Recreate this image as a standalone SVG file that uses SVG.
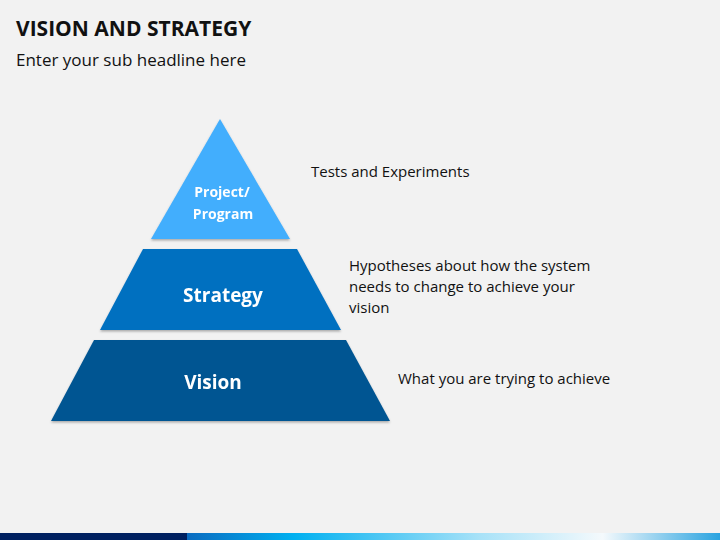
<svg xmlns="http://www.w3.org/2000/svg" width="720" height="540" viewBox="0 0 720 540">
<defs>
<linearGradient id="bar" x1="0" x2="1" y1="0" y2="0">
<stop offset="0" stop-color="#0a6bc0"/>
<stop offset="0.2" stop-color="#00b0f0"/>
<stop offset="0.55" stop-color="#a8e2f8"/>
<stop offset="0.78" stop-color="#f4f9fc"/>
<stop offset="1" stop-color="#29a3e0"/>
</linearGradient>
<filter id="sh" x="-10%" y="-10%" width="120%" height="130%"><feDropShadow dx="0" dy="1.5" stdDeviation="1" flood-opacity="0.3"/></filter>
</defs>
<style>
.t{font-family:"Open Sans","Liberation Sans",sans-serif;fill:#111}
.w{font-family:"Open Sans","Liberation Sans",sans-serif;fill:#fff;font-weight:bold;text-anchor:middle}
</style>
<rect width="720" height="540" fill="#f2f2f2"/>
<text class="t" x="16" y="36" font-size="21" font-weight="bold">VISION AND STRATEGY</text>
<text class="t" x="16" y="66" font-size="17">Enter your sub headline here</text>
<g id="project" filter="url(#sh)">
<polygon points="220,119 290,239 151,239" fill="#42aefd"/>
<text class="w" x="222" y="197" font-size="14">Project/</text>
<text class="w" x="223" y="219" font-size="14">Program</text>
</g>
<g id="strategy" filter="url(#sh)">
<polygon points="143,249 297,249 341,330 100,330" fill="#0070c0"/>
<text class="w" x="223" y="302" font-size="19">Strategy</text>
</g>
<g id="vision" filter="url(#sh)">
<polygon points="94,340 346,340 390,421 51,421" fill="#005592"/>
<text class="w" x="213" y="389" font-size="19">Vision</text>
</g>
<g id="labels">
<text class="t" x="311" y="177" font-size="15">Tests and Experiments</text>
<text class="t" x="349" y="271" font-size="15">Hypotheses about how the system</text>
<text class="t" x="349" y="292" font-size="15">needs to change to achieve your</text>
<text class="t" x="349" y="313" font-size="15">vision</text>
<text class="t" x="398" y="384" font-size="15">What you are trying to achieve</text>
</g>
<g id="connectors"/>
<rect x="0" y="533" width="187" height="7" fill="#002060"/>
<rect x="187" y="533" width="533" height="7" fill="url(#bar)"/>
</svg>
